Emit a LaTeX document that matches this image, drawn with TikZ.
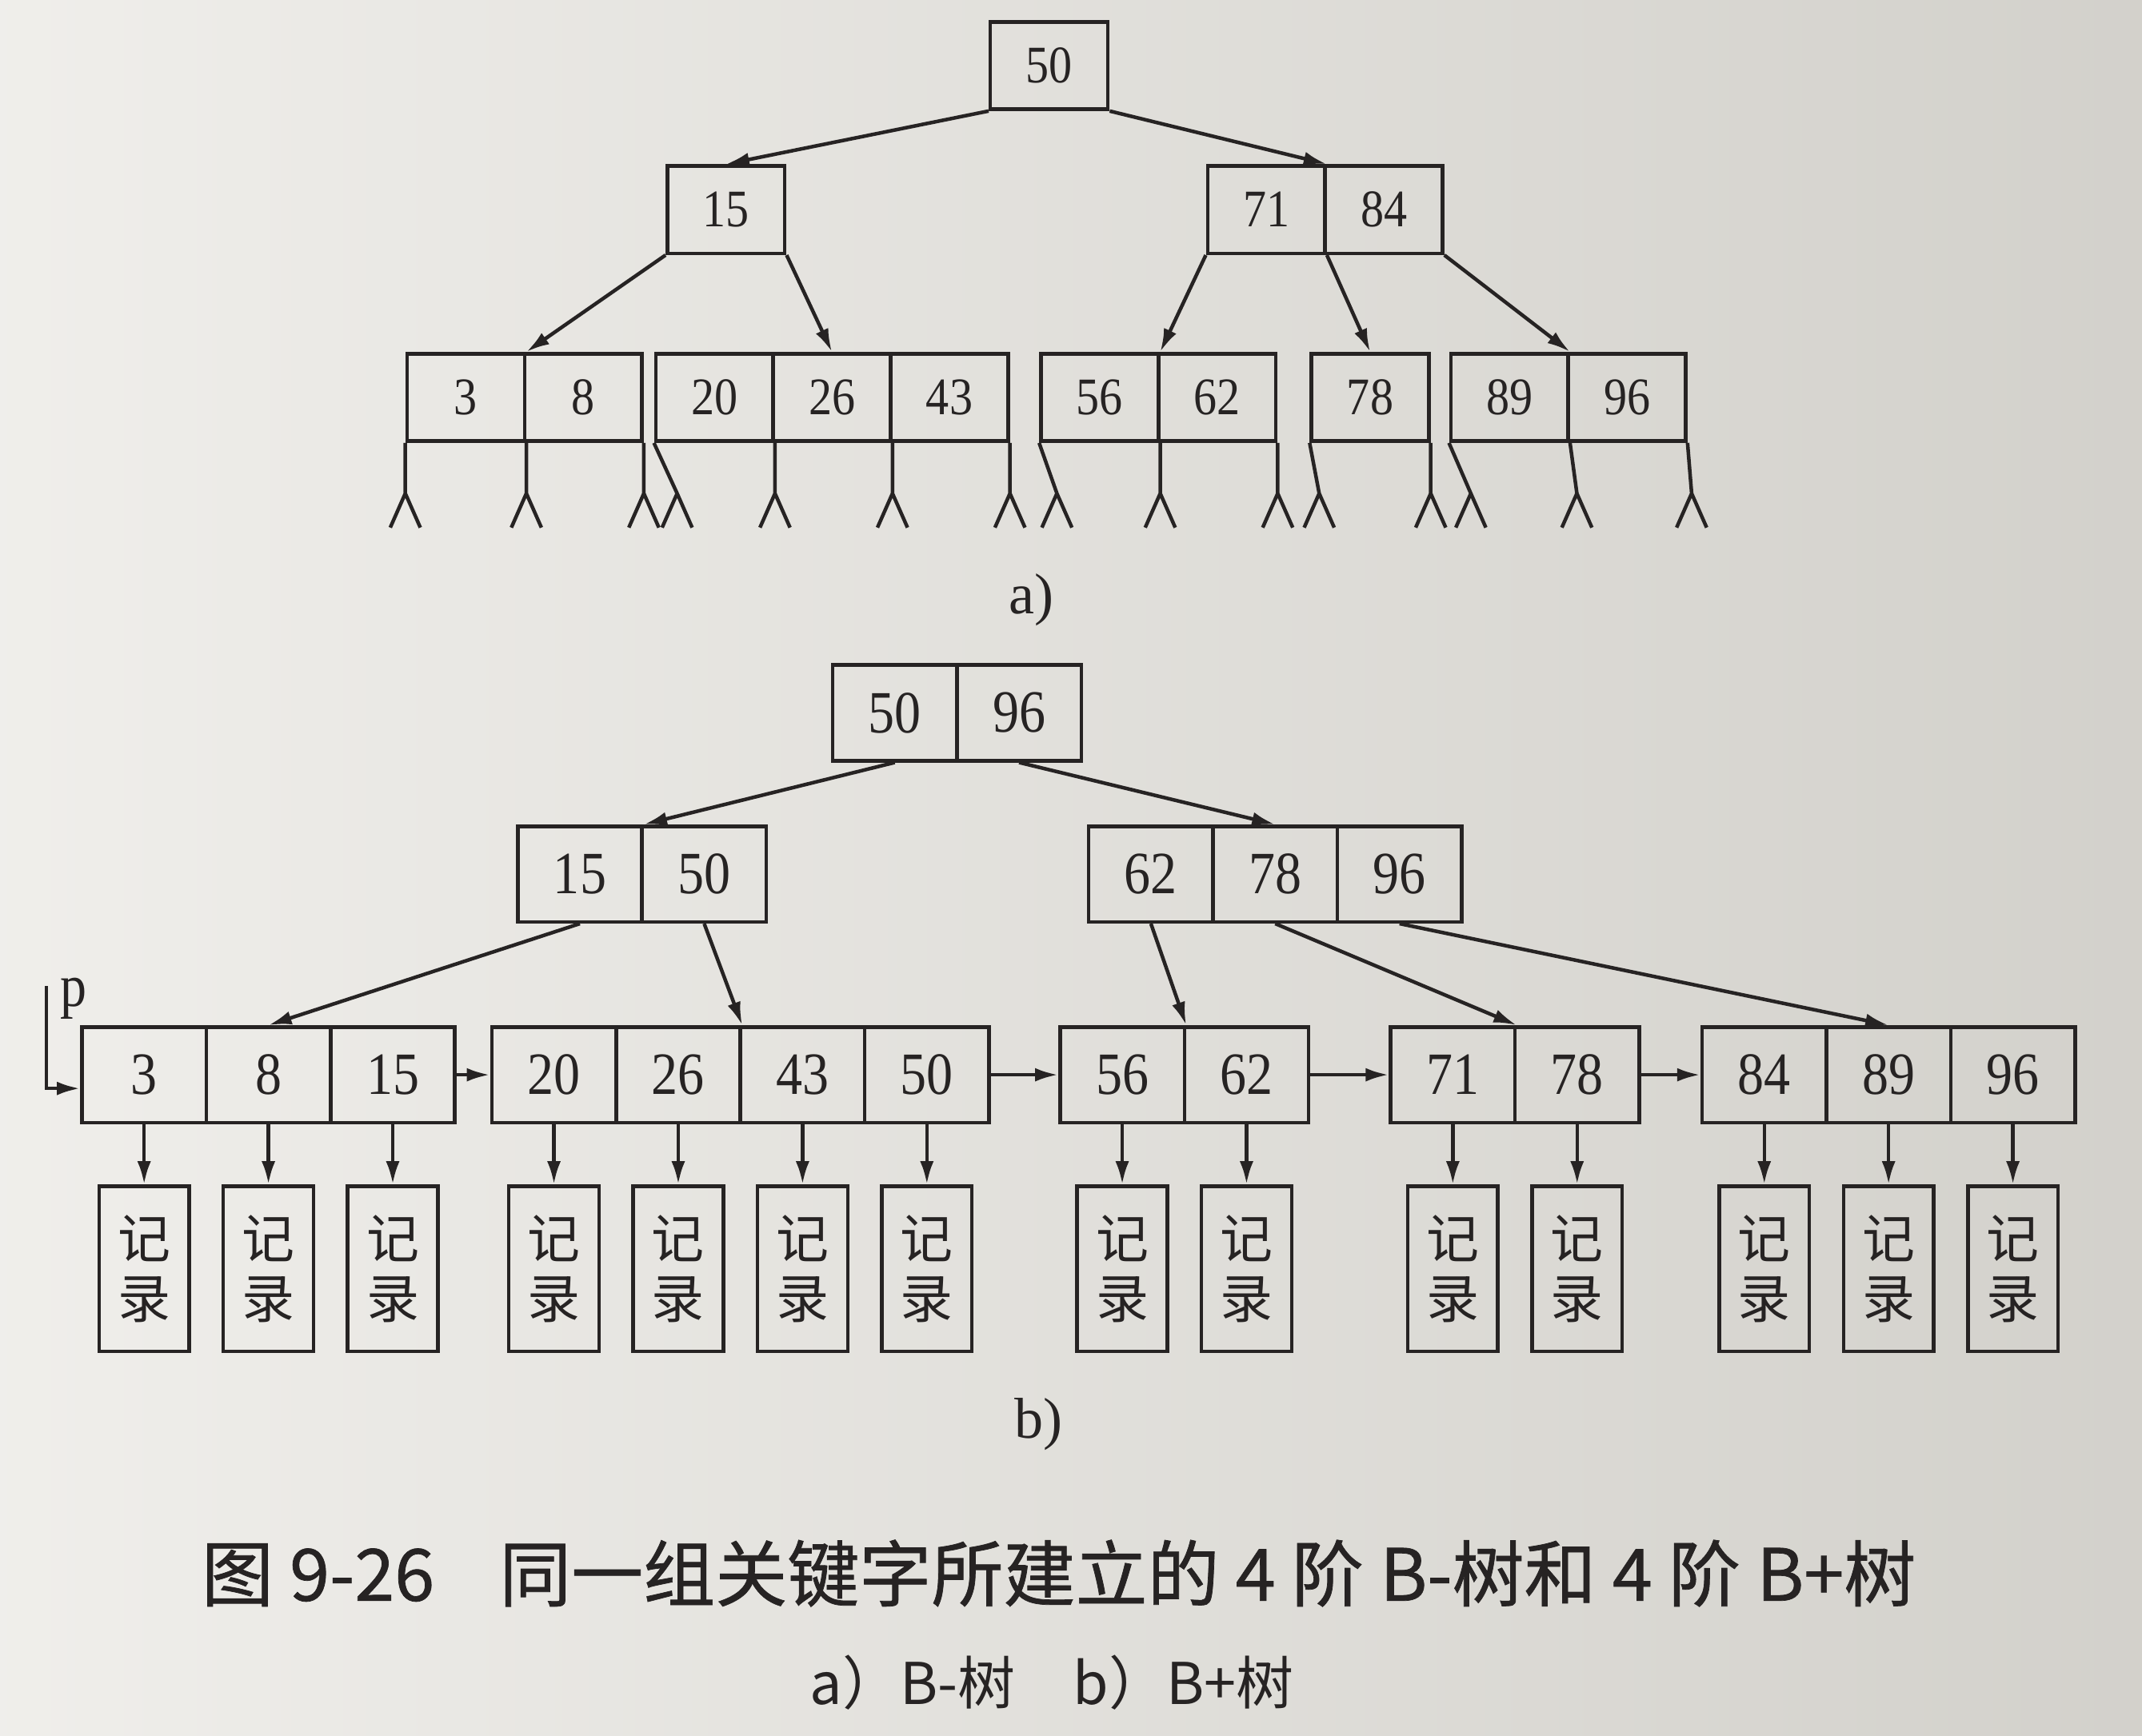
\documentclass[tikz,border=0pt]{standalone}
\usepackage{fontspec}
\setmainfont{Liberation Serif}
\newfontfamily\numfont[FakeStretch=0.88]{Liberation Serif}
\newfontfamily\cjk{Noto Sans CJK SC}
\newfontfamily\capfont[FakeBold=0.8]{Noto Sans CJK SC}
\usetikzlibrary{arrows.meta,positioning}
\definecolor{paper}{RGB}{229,227,221}
\definecolor{ink}{RGB}{38,35,35}
\tikzset{
  acell/.style={draw=ink,minimum width=8.6mm,minimum height=6.4mm,inner sep=0pt,font=\numfont\fontsize{11}{13}\selectfont},
  bcell/.style={draw=ink,minimum width=9.1mm,minimum height=7mm,inner sep=0pt,font=\numfont\fontsize{12.5}{14}\selectfont},
  rec/.style={draw=ink,minimum width=6.6mm,minimum height=12.1mm,inner sep=0pt,align=center,font=\cjk\fontsize{11}{12.5}\selectfont},
  arr/.style={-{Latex[length=1.7mm,width=1mm]}},
}
\begin{document}
\begin{tikzpicture}[x=0.1mm,y=-0.1mm,line width=0.75pt,color=ink]
\shade[left color=paper!60!white,right color=paper!92!black] (0,0) rectangle (1568,1270.6);
\useasboundingbox (0,0) rectangle (1568,1270.6);
% a) B-tree
\node[acell] (a50) at (768,48) {50};
\node[acell] (a15) at (531.5,153.5) {15};
\foreach \k [count=\i from 0] in {71,84}
    \node[acell] (a\k) at (927+86*\i,153.5) {\k};
\foreach \ks/\xl in {{3,8}/298,{20,26,43}/480,{56,62}/762,{78}/960,{89,96}/1062}{
    \foreach \k [count=\i from 0] in \ks
        \node[acell] (a\k) at (\xl+43+86*\i,291) {\k};
}
\draw[arr] (a50.south west)--(a15.north);
\draw[arr] (a50.south east)--(a71.north east);
\draw[arr] (a15.south west)--(a3.north east);
\draw[arr] (a15.south east)--(a26.north);
\draw[arr] (a71.south west)--(a56.north east);
\draw[arr] (a71.south east)--(a78.north);
\draw[arr] (a84.south east)--(a89.north east);
\foreach \s/\dx in {a3.south west/0,a3.south east/0,a8.south east/0,a20.south west/17,a20.south east/0,a26.south east/0,a43.south east/0,a56.south west/13,a56.south east/0,a62.south east/0,a78.south west/7,a78.south east/0,a89.south west/16,a89.south east/5,a96.south east/3}
    \draw (\s)--++(\dx,37)--++(-11,25) ++(11,-25)--++(11,25);
\node[font=\fontsize{12}{14}\selectfont] (la) at (755,439) {a)};
% b) B+ tree
\foreach \k [count=\i from 0] in {50,96}
    \node[bcell] (rb\k) at (655+91*\i,522) {\k};
\foreach \k [count=\i from 0] in {15,50}
    \node[bcell] (lb\k) at (424.5+91*\i,640) {\k};
\foreach \k [count=\i from 0] in {62,78,96}
    \node[bcell] (lb\k) at (842.5+91*\i,640) {\k};
\foreach \ks/\xl in {{3,8,15}/60,{20,26,43,50}/360,{56,62}/776,{71,78}/1018,{84,89,96}/1246}{
    \foreach \k [count=\i from 0] in \ks
        \node[bcell] (b\k) at (\xl+45.5+91*\i,787) {\k};
}
\draw[arr] (rb50.south)--(lb15.north east);
\draw[arr] (rb96.south)--(lb78.north);
\draw[arr] (lb15.south)--(b8.north);
\draw[arr] (lb50.south)--(b26.north east);
\draw[arr] (lb62.south)--(b56.north east);
\draw[arr] (lb78.south)--(b71.north east);
\draw[arr] (lb96.south)--(b89.north);
\foreach \s/\t in {b15/b20,b50/b56,b62/b71,b78/b84}
    \draw[arr] (\s.east)--(\t.west);
\foreach \k in {3,8,15,20,26,43,50,56,62,71,78,84,89,96}{
    \node[rec,below=4.4mm of b\k] (r\k) {记\\录};
    \draw[arr] (b\k)--(r\k);
}
\coordinate (ptop) at (34,722);
\node[font=\numfont\fontsize{12.5}{14}\selectfont] (plabel) at (54,731) {p};
\draw[arr] (ptop) |- ([yshift=-1mm]b3.west);
\node[font=\fontsize{12}{14}\selectfont] (lb) at (760,1043) {b)};
% caption
\node[font=\capfont\fontsize{15}{17}\selectfont] (cap) at (775,1152) {图 9-26\hspace{0.9em}同一组关键字所建立的 4 阶 B-树和 4 阶 B+树};
\node[font=\cjk\fontsize{12}{14}\selectfont] (sub) at (770,1232) {a）B-树\hspace{1em}b）B+树};
\end{tikzpicture}
\end{document}
